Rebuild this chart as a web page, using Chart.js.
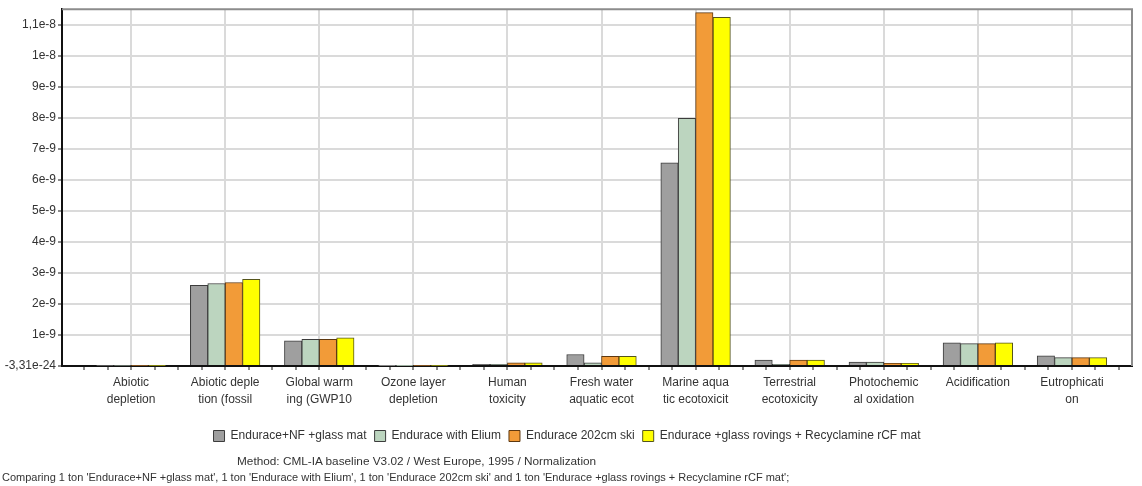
<!DOCTYPE html>
<html>
<head>
<meta charset="utf-8">
<script src="https://cdn.jsdelivr.net/npm/chart.js@4.4.1/dist/chart.umd.min.js"></script>
<style>
    body { margin: 0; background: #fff; }
    #wrap { position: relative; width: 1142px; height: 486px; }
    #graph { position: absolute; left: 0; top: 0; }
    .note { position: absolute; font-family: "Liberation Sans", Arial, sans-serif; line-height: 16px; color: #333; white-space: nowrap; }
</style>
</head>
<body>
<div id="wrap">
    <canvas id="graph" width="1142" height="454"></canvas>
    <div class="note" id="method" style="left: 237px; top: 453px; font-size: 11.8px;"></div>
    <div class="note" id="comparing" style="left: 2px; top: 469px; font-size: 11px;"></div>
</div>
<script>
// impact categories (labels are cut into two lines like the original)
var categories = [
    ["Abiotic", "depletion"],
    ["Abiotic deple", "tion (fossil"],
    ["Global warm", "ing (GWP10"],
    ["Ozone layer", "depletion"],
    ["Human", "toxicity"],
    ["Fresh water", "aquatic ecot"],
    ["Marine aqua", "tic ecotoxicit"],
    ["Terrestrial", "ecotoxicity"],
    ["Photochemic", "al oxidation"],
    ["Acidification"],
    ["Eutrophicati", "on"]
];

var seriesNames = [
    "Endurace+NF +glass mat",
    "Endurace with Elium",
    "Endurace 202cm ski",
    "Endurace +glass rovings + Recyclamine rCF mat"
];

// normalized values
var nfGlassMat   = [0.015e-9, 2.60e-9, 0.81e-9, 0.01e-9, 0.05e-9, 0.37e-9, 6.55e-9, 0.19e-9, 0.13e-9, 0.75e-9, 0.33e-9];
var withElium    = [0.015e-9, 2.66e-9, 0.86e-9, 0.01e-9, 0.05e-9, 0.10e-9, 7.98e-9, 0.05e-9, 0.13e-9, 0.72e-9, 0.27e-9];
var ski202       = [0.02e-9, 2.69e-9, 0.86e-9, 0.015e-9, 0.10e-9, 0.31e-9, 11.39e-9, 0.19e-9, 0.09e-9, 0.72e-9, 0.27e-9];
var glassRovings = [0.02e-9, 2.79e-9, 0.91e-9, 0.015e-9, 0.10e-9, 0.31e-9, 11.24e-9, 0.19e-9, 0.09e-9, 0.75e-9, 0.27e-9];

var yTickValues = [0, 1e-9, 2e-9, 3e-9, 4e-9, 5e-9, 6e-9, 7e-9, 8e-9, 9e-9, 1e-8, 1.1e-8];
var yTickLabels = ["-3,31e-24", "1e-9", "2e-9", "3e-9", "4e-9", "5e-9", "6e-9", "7e-9", "8e-9", "9e-9", "1e-8", "1,1e-8"];
var yMax = 11.5e-9;

var methodText = "Method: CML-IA baseline V3.02 / West Europe, 1995 / Normalization";
var comparingText = "Comparing 1 ton 'Endurace+NF +glass mat', 1 ton 'Endurace with Elium', 1 ton 'Endurace 202cm ski' and 1 ton 'Endurace +glass rovings + Recyclamine rCF mat';";

document.getElementById("method").textContent = methodText;
document.getElementById("comparing").textContent = comparingText;

function toPoints(values)
{
    return values.map(function (v, i) { return {x: i, y: v}; });
}

var allSeries = [nfGlassMat, withElium, ski202, glassRovings];
var fills = ["#9f9f9f", "#bcd5bf", "#f29b38", "#ffff00"];
var edges = ["#3c3c3c", "#3c3c3c", "#5e3810", "#55551c"];

var dataChart = {
    datasets: allSeries.map(function (vals, k) {
        return {
            label: seriesNames[k],
            data: toPoints(vals),
            backgroundColor: fills[k],
            borderColor: edges[k],
            borderWidth: 1,
            barThickness: 17.4
        };
    })
};

// gray frame on top and right of the plot
var frame = {
    id: "frame",
    beforeDatasetsDraw: function (chart) {
        var a = chart.chartArea;
        var c = chart.ctx;
        c.save();
        c.strokeStyle = "#8c8c8c";
        c.lineWidth = 2;
        c.beginPath();
        c.moveTo(a.left, a.top);
        c.lineTo(a.right, a.top);
        c.lineTo(a.right, a.bottom);
        c.stroke();
        c.restore();
    }
};

var labelFont = {family: "'Liberation Sans', Arial, sans-serif", size: 12, lineHeight: 1.35};

var ctx = document.getElementById("graph");

var myChart = new Chart(ctx, {
    type: "bar",
    data: dataChart,
    plugins: [frame],
    options: {
        responsive: false,
        animation: false,
        layout: {padding: {left: 2, right: 10, top: 8, bottom: 2}},
        plugins: {
            tooltip: {enabled: false},
            legend: {
                display: true,
                position: "bottom",
                labels: {
                    boxWidth: 11,
                    boxHeight: 11,
                    padding: 8,
                    color: "#333",
                    font: {family: "'Liberation Sans', Arial, sans-serif", size: 12}
                }
            }
        },
        scales: {
            x: {
                type: "linear",
                offset: false,
                min: -0.734,
                max: 10.638,
                afterBuildTicks: function (scale) {
                    var t = [];
                    for (var k = 0; k <= 44; k++) t.push({value: -0.5 + k * 0.25});
                    scale.ticks = t;
                },
                afterFit: function (scale) { scale.height = 56; },
                ticks: {
                    autoSkip: false,
                    maxRotation: 0,
                    padding: 5,
                    color: "#333",
                    font: labelFont,
                    callback: function (value) {
                        return Number.isInteger(value) ? categories[value] : "";
                    }
                },
                grid: {
                    offset: false,
                    color: function (c) {
                        return c.tick && Number.isInteger(c.tick.value) ? "#dadada" : "rgba(0,0,0,0)";
                    },
                    lineWidth: 2,
                    tickColor: "#8a8a8a",
                    tickLength: 4,
                    drawTicks: true
                },
                border: {color: "#111", width: 2}
            },
            y: {
                min: 0,
                max: yMax,
                afterBuildTicks: function (scale) {
                    scale.ticks = yTickValues.map(function (v) { return {value: v}; });
                },
                afterFit: function (scale) { scale.width = 60; },
                ticks: {
                    padding: 2,
                    color: "#333",
                    font: {family: "'Liberation Sans', Arial, sans-serif", size: 12},
                    callback: function (value, index) {
                        return yTickLabels[index];
                    }
                },
                grid: {
                    color: "#dadada",
                    lineWidth: 2,
                    tickColor: "#8a8a8a",
                    tickLength: 4
                },
                border: {color: "#111", width: 2}
            }
        }
    }
});
</script>
</body>
</html>
